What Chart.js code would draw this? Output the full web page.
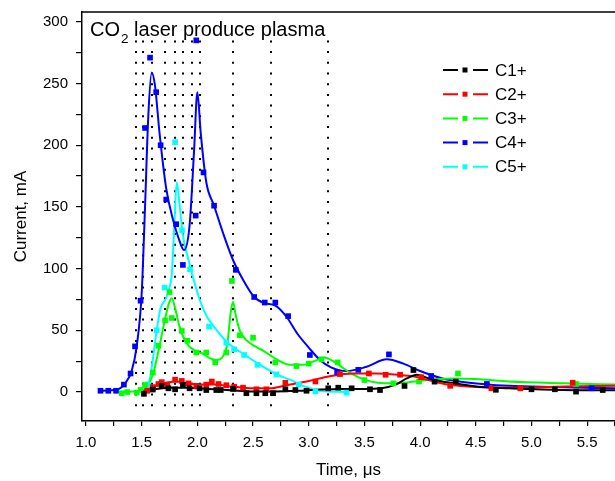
<!DOCTYPE html>
<html>
<head>
<meta charset="utf-8">
<script src="https://cdn.jsdelivr.net/npm/chart.js@4.4.1/dist/chart.umd.min.js"></script>
<style>
  body { margin: 0; background: #fff; }
  #wrap { width: 615px; height: 481px; overflow: hidden; }
</style>
</head>
<body>
<div id="wrap"><canvas id="myChart" width="615" height="481"></canvas></div>
<script>
const seriesNames = ['C1+', 'C2+', 'C3+', 'C4+', 'C5+'];
const seriesColors = ['#000000', '#ff0000', '#00ff00', '#0000ff', '#00ffff'];
const titleMain = 'CO';
const titleSub = '2';
const titleRest = ' laser produce plasma';

// dotted vertical markers (time, us)
const markerTimes = [1.45, 1.51, 1.59, 1.71, 1.80, 1.87, 1.95, 2.02, 2.32, 2.66, 3.17];
const markerTop = 285;
const markerBottom = -17;

// measured points [time, current]
const c1Points = [[1.52,-1.5],[1.60,2],[1.68,5],[1.74,3],[1.80,2.2],[1.87,5.7],[1.93,3],[2.02,3],[2.08,1.6],[2.17,1.6],[2.21,1.6],[2.32,2.5],[2.44,-1],[2.53,-1],[2.61,-1],[2.68,-1],[2.79,2.2],[2.88,1.6],[2.98,1],[3.175,3],[3.265,3.5],[3.385,3],[3.55,2.2],[3.64,1.6],[3.86,4.9],[3.94,17.8],[4.13,8.4],[4.32,8.4],[4.68,1.8],[5.0,2.2],[5.21,2.2],[5.40,0.3],[5.64,1.6]];
const c2Points = [[1.55,1],[1.60,4],[1.65,6.5],[1.68,8],[1.73,6],[1.80,10],[1.86,9],[1.92,7],[1.99,5],[2.08,6],[2.13,8.5],[2.19,6.5],[2.26,5.5],[2.33,4.3],[2.41,3.5],[2.53,2.2],[2.62,2.2],[2.79,7.5],[3.06,8.5],[3.28,14.5],[3.54,15],[3.69,14],[3.82,14],[4.01,12],[4.27,5],[4.64,3],[4.90,3],[5.37,7.5]];
const c3Points = [[1.32,-1],[1.37,0],[1.455,-0.5],[1.49,1.7],[1.53,5.7],[1.60,15.7],[1.65,37.5],[1.71,58],[1.75,81],[1.77,60],[1.86,49.5],[1.91,41.6],[1.99,32],[2.08,32],[2.16,24],[2.26,32],[2.31,90],[2.38,46],[2.50,44],[2.70,24],[2.89,21],[3.00,23],[3.115,26.5],[3.26,24],[3.50,9.7],[3.76,7],[3.99,8.5],[4.34,15],[5.40,6.5]];
const c4Points = [[1.13,1],[1.20,1],[1.27,1],[1.34,6],[1.40,15],[1.44,37],[1.49,74],[1.53,214],[1.575,271],[1.63,243],[1.67,200],[1.72,156],[1.81,136],[1.87,103],[1.985,143],[1.99,285],[2.055,178],[2.15,151],[2.345,99],[2.51,77],[2.605,72.5],[2.70,72.5],[2.815,61.5],[3.01,30],[3.255,16],[3.445,18],[3.72,30.5],[4.10,13],[4.60,6.5],[5.54,3]];
const c5Points = [[1.56,6.3],[1.634,50],[1.706,84.6],[1.80,202.5],[1.862,131],[1.934,99.5],[2.105,53],[2.26,40],[2.33,34.6],[2.42,30],[2.54,22],[2.71,14.3],[2.91,6],[3.06,0.5],[3.34,-0.5]];

// fitted curves [time, current]
const c1Fit = [[1.50,0],[1.60,2],[1.75,3.5],[1.90,3.5],[2.10,2.5],[2.30,1.5],[2.50,0.5],[2.70,0.5],[2.90,1],[3.10,2],[3.30,2.5],[3.50,2.5],[3.65,3],[3.78,6],[3.88,11],[3.97,14],[4.08,11],[4.20,8.5],[4.35,6.5],[4.55,4],[4.80,3],[5.10,2],[5.40,1.5],[5.75,1.5]];
const c2Fit = [[1.50,0],[1.60,4],[1.70,7],[1.80,8.5],[1.90,7.5],[2.00,6],[2.15,6],[2.30,4.5],[2.50,3],[2.65,3],[2.80,5.5],[3.00,9],[3.20,13],[3.40,15],[3.60,15],[3.80,14],[3.95,12.5],[4.10,9],[4.25,6],[4.50,4],[4.90,3.5],[5.30,4.5],[5.75,5]];
const c3Fit = [[1.30,0],[1.50,1],[1.55,5],[1.60,14],[1.65,33],[1.70,55],[1.745,72],[1.77,76],[1.80,68],[1.84,53],[1.90,40],[1.97,34],[2.05,31],[2.12,27],[2.17,26],[2.23,29],[2.27,40],[2.30,65],[2.32,73],[2.345,62],[2.38,50],[2.44,42],[2.52,37],[2.60,33],[2.72,26],[2.83,22],[2.95,22],[3.05,25],[3.14,28],[3.22,25],[3.30,20],[3.40,14],[3.50,10],[3.62,7.5],[3.76,7],[3.90,8],[4.05,9.5],[4.30,11],[4.50,10.5],[4.80,8.5],[5.30,7],[5.75,6]];
const c4Fit = [[1.12,1],[1.28,2],[1.35,7],[1.41,17],[1.455,37],[1.50,80],[1.53,150],[1.56,225],[1.59,259],[1.62,248],[1.66,210],[1.72,165],[1.78,140],[1.83,125],[1.88,115],[1.93,135],[1.97,195],[2.00,243],[2.03,210],[2.08,170],[2.15,151],[2.23,129],[2.32,107],[2.41,91],[2.51,77],[2.60,72],[2.70,70],[2.80,61],[2.90,47],[3.00,36],[3.10,26],[3.20,20],[3.34,17],[3.52,20.5],[3.70,26.5],[3.85,23],[4.00,17],[4.20,11],[4.40,8],[4.80,5],[5.20,4],[5.75,3]];
const c5Fit = [[1.53,0],[1.56,5],[1.59,20],[1.63,47],[1.67,68],[1.72,76],[1.75,85],[1.77,95],[1.79,130],[1.815,170],[1.84,152],[1.87,127],[1.92,107],[1.97,90],[2.02,75],[2.08,62],[2.14,54],[2.26,41],[2.41,31],[2.59,20.5],[2.72,14],[2.83,10],[2.95,5],[3.10,1],[3.35,0]];

const allPoints = [c1Points, c2Points, c3Points, c4Points, c5Points];
const allFits = [c1Fit, c2Fit, c3Fit, c4Fit, c5Fit];

const toXY = pts => pts.map(([x, y]) => ({x: x, y: y}));

Chart.defaults.font.family = '"Liberation Sans", Arial, sans-serif';
Chart.defaults.color = '#000';

const datasets = [];
seriesNames.forEach((name, i) => {
    datasets.push({
        label: name,
        data: toXY(allPoints[i]),
        showLine: false,
        pointStyle: 'rect',
        pointRadius: 4,
        pointBorderWidth: 0,
        backgroundColor: seriesColors[i],
        borderColor: seriesColors[i],
        order: 0
    });
    datasets.push({
        label: name + ' fit',
        data: toXY(allFits[i]),
        showLine: true,
        pointRadius: 0,
        borderWidth: 2,
        borderColor: seriesColors[i],
        cubicInterpolationMode: 'monotone',
        order: 1
    });
});

// dotted lines, title, legend and top frame line
const extras = {
    id: 'extras',
    beforeDatasetsDraw(chart) {
        const {ctx, scales: {x, y}} = chart;
        ctx.save();
        ctx.strokeStyle = '#000';
        ctx.lineWidth = 2;
        ctx.setLineDash([2, 8.7]);
        markerTimes.forEach(t => {
            const px = Math.round(x.getPixelForValue(t));
            ctx.beginPath();
            ctx.moveTo(px, y.getPixelForValue(markerTop));
            ctx.lineTo(px, y.getPixelForValue(markerBottom));
            ctx.stroke();
        });
        ctx.restore();
    },
    afterDraw(chart) {
        const {ctx, chartArea} = chart;
        ctx.save();
        // top frame line
        ctx.strokeStyle = '#000';
        ctx.lineWidth = 1.5;
        ctx.beginPath();
        ctx.moveTo(chartArea.left, chartArea.top);
        ctx.lineTo(chartArea.right, chartArea.top);
        ctx.stroke();

        // title with subscript
        ctx.fillStyle = '#000';
        ctx.textBaseline = 'alphabetic';
        ctx.textAlign = 'left';
        let tx = 90;
        ctx.font = '20px "Liberation Sans"';
        ctx.fillText(titleMain, tx, 36);
        tx += ctx.measureText(titleMain).width + 1;
        ctx.font = '13.5px "Liberation Sans"';
        ctx.fillText(titleSub, tx, 43);
        tx += ctx.measureText(titleSub).width;
        ctx.font = '20px "Liberation Sans"';
        ctx.fillText(titleRest, tx, 36);

        // legend
        ctx.font = '17px "Liberation Sans"';
        ctx.textBaseline = 'middle';
        seriesNames.forEach((name, i) => {
            const ly = 70 + i * 24.2;
            ctx.strokeStyle = seriesColors[i];
            ctx.fillStyle = seriesColors[i];
            ctx.lineWidth = 2;
            ctx.beginPath();
            ctx.moveTo(443, ly); ctx.lineTo(458, ly);
            ctx.moveTo(473, ly); ctx.lineTo(488, ly);
            ctx.stroke();
            ctx.fillRect(462.5, ly - 2.5, 5, 5);
            ctx.fillStyle = '#000';
            ctx.fillText(name, 495, ly + 1);
        });
        ctx.restore();
    }
};

const ctx = document.getElementById('myChart').getContext('2d');
const chart = new Chart(ctx, {
    type: 'scatter',
    data: { datasets: datasets },
    options: {
        responsive: false,
        animation: false,
        devicePixelRatio: 1,
        layout: { autoPadding: false, padding: { top: 12, left: 0, right: 0, bottom: 0 } },
        plugins: {
            legend: { display: false },
            tooltip: { enabled: false }
        },
        scales: {
            x: {
                type: 'linear',
                min: 0.964,
                max: 5.75,
                afterFit: scale => { scale.height = 60; scale.paddingRight = 0; },
                border: { display: true, color: '#000', width: 1.5 },
                grid: { drawOnChartArea: false, drawTicks: true, tickLength: 5, color: '#000', lineWidth: 1.2 },
                ticks: {
                    stepSize: 0.25,
                    includeBounds: false,
                    autoSkip: false,
                    maxRotation: 0,
                    padding: 8,
                    font: { size: 15 },
                    callback: v => Math.abs(v * 2 - Math.round(v * 2)) < 1e-6 ? v.toFixed(1) : ''
                },
                title: { display: true, text: 'Time, μs', font: { size: 17 }, padding: { top: 0, bottom: 0 } }
            },
            y: {
                type: 'linear',
                min: -23.5,
                max: 308,
                afterFit: scale => { scale.width = 82; scale.paddingTop = 0; scale.paddingBottom = 0; },
                border: { display: true, color: '#000', width: 1.5 },
                grid: { drawOnChartArea: false, drawTicks: true, tickLength: 6, color: '#000', lineWidth: 1.2 },
                ticks: {
                    stepSize: 25,
                    includeBounds: false,
                    autoSkip: false,
                    padding: 8,
                    font: { size: 15 },
                    callback: v => (Math.round(v) % 50 === 0 ? String(Math.round(v)) : '')
                },
                title: { display: true, text: 'Current, mA', font: { size: 17 }, padding: { top: 11, bottom: 0 } }
            }
        }
    },
    plugins: [extras]
});
</script>
</body>
</html>
